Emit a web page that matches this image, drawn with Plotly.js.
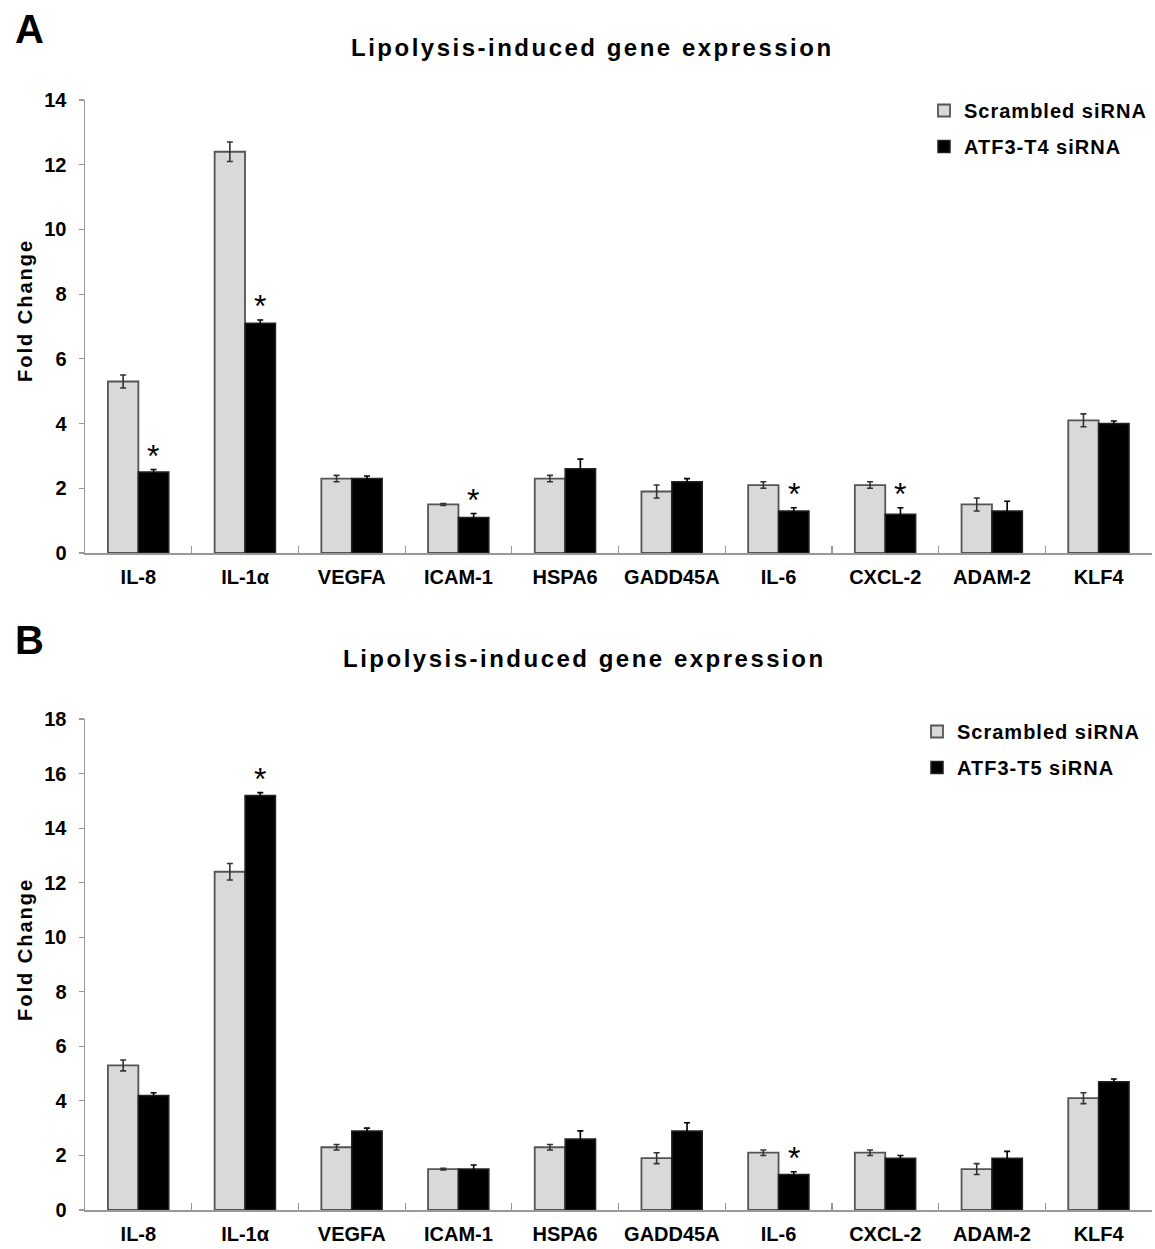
<!DOCTYPE html>
<html>
<head>
<meta charset="utf-8">
<script src="https://cdn.plot.ly/plotly-3.0.1.min.js"></script>
<style>html,body{margin:0;padding:0;background:#fff}#chart{width:1155px;height:1249px}</style>
</head>
<body>
<div id="chart"></div>
<script>
const genes = ['IL-8','IL-1α','VEGFA','ICAM-1','HSPA6','GADD45A','IL-6','CXCL-2','ADAM-2','KLF4'];
const scrambled = [5.3,12.4,2.3,1.5,2.3,1.9,2.1,2.1,1.5,4.1];
const scrambledErr = [0.2,0.3,0.1,0.03,0.1,0.2,0.1,0.1,0.2,0.2];
const atf3T4 = [2.5,7.1,2.3,1.1,2.6,2.2,1.3,1.2,1.3,4.0];
const atf3T4Err = [0.08,0.1,0.08,0.12,0.3,0.1,0.1,0.2,0.3,0.08];
const atf3T5 = [4.2,15.2,2.9,1.5,2.6,2.9,1.3,1.9,1.9,4.7];
const atf3T5Err = [0.1,0.1,0.1,0.15,0.3,0.3,0.1,0.1,0.25,0.1];
const sigA = [1,1,0,1,0,0,1,1,0,0];
const sigB = [0,1,0,0,0,0,1,0,0,0];
const yTicksA = [0,2,4,6,8,10,12,14];
const yTicksB = [0,2,4,6,8,10,12,14,16,18];

const FONT = 'Arial, "Liberation Sans", sans-serif';
const W = 1155, H = 1249;
const px = v => v / W, py = v => 1 - v / H;
const spaced = (t, s) => '<span style="letter-spacing:' + s + 'px"><b>' + t + '</b></span>';

function lightBar(xa, ya, lg) {
  return {type:'bar', name:spaced('Scrambled siRNA', 1), x:genes, y:scrambled, xaxis:xa, yaxis:ya,
    legend:lg, legendgroup:lg+'a', showlegend:true,
    marker:{color:'#d9d9d9', line:{color:'#555', width:1.8}},
    error_y:{type:'data', array:scrambledErr, visible:true, color:'#333', thickness:1.6, width:3}};
}
function darkBar(xa, ya, lg, name, vals, errs) {
  return {type:'bar', name:spaced(name, 1), x:genes, y:vals, xaxis:xa, yaxis:ya,
    legend:lg, legendgroup:lg+'b', showlegend:true,
    marker:{color:'#000', line:{color:'#222', width:1.5}},
    error_y:{type:'data', array:errs, visible:true, color:'#000', thickness:1.6, width:3}};
}

const data = [
  lightBar('x','y','legend'),
  darkBar('x','y','legend','ATF3-T4 siRNA', atf3T4, atf3T4Err),
  lightBar('x2','y2','legend2'),
  darkBar('x2','y2','legend2','ATF3-T5 siRNA', atf3T5, atf3T5Err)
];

const annotations = [];
function addStars(sig, vals, errs, xr, yr) {
  sig.forEach((s, i) => {
    if (s) annotations.push({xref:xr, yref:yr, x:genes[i], y:vals[i]+errs[i], xshift:15, yshift:-6,
      yanchor:'bottom', showarrow:false, text:'*', font:{family:FONT, size:32, color:'#000'}});
  });
}
addStars(sigA, atf3T4, atf3T4Err, 'x', 'y');
addStars(sigB, atf3T5, atf3T5Err, 'x2', 'y2');

const boldTitle = 'Lipolysis-induced gene expression';
annotations.push(
  {xref:'paper', yref:'paper', x:px(592), y:py(47), xanchor:'center', yanchor:'middle', showarrow:false,
   text:spaced(boldTitle, 2.5), font:{family:FONT, size:24, color:'#000'}},
  {xref:'paper', yref:'paper', x:px(585), y:py(658), xanchor:'center', yanchor:'middle', showarrow:false,
   text:spaced(boldTitle, 2.5), font:{family:FONT, size:24, color:'#000'}},
  {xref:'paper', yref:'paper', x:px(29), y:py(29), xanchor:'center', yanchor:'middle', showarrow:false,
   text:'<b>A</b>', font:{family:FONT, size:40, color:'#000'}},
  {xref:'paper', yref:'paper', x:px(29), y:py(640), xanchor:'center', yanchor:'middle', showarrow:false,
   text:'<b>B</b>', font:{family:FONT, size:40, color:'#000'}},
  {xref:'paper', yref:'paper', x:px(25), y:py(311), xanchor:'center', yanchor:'middle', showarrow:false, textangle:-90,
   text:spaced('Fold Change', 2), font:{family:FONT, size:20, color:'#000'}},
  {xref:'paper', yref:'paper', x:px(25), y:py(950), xanchor:'center', yanchor:'middle', showarrow:false, textangle:-90,
   text:spaced('Fold Change', 2), font:{family:FONT, size:20, color:'#000'}}
);

const xCommon = {type:'category', showline:true, linecolor:'#999', linewidth:1.5, ticks:'inside', tickson:'boundaries',
  ticklen:7, tickcolor:'#999', tickwidth:1.2, showgrid:false, zeroline:false, range:[-0.5, 9.5],
  tickfont:{family:FONT, size:20, color:'#000', weight:'bold'}, ticklabelstandoff:5};
const yCommon = {showline:true, linecolor:'#999', linewidth:1.5, ticks:'outside', ticklen:5, tickcolor:'#999', tickwidth:1.2,
  showgrid:false, zeroline:false, tickfont:{family:FONT, size:20, color:'#000', weight:'bold'}, ticklabelstandoff:8};

const legendFont = {family:FONT, size:20, color:'#000', weight:'bold'};
const layout = {
  width:W, height:H, margin:{l:0, r:0, t:0, b:0, autoexpand:false}, paper_bgcolor:'#fff', plot_bgcolor:'#fff',
  barmode:'group', bargap:0.43, bargroupgap:0,
  xaxis:Object.assign({}, xCommon, {domain:[px(85), px(1152)], anchor:'y', automargin:false}),
  yaxis:Object.assign({}, yCommon, {domain:[py(553), py(100)], range:[0,14], tickvals:yTicksA, anchor:'x', automargin:false}),
  xaxis2:Object.assign({}, xCommon, {domain:[px(85), px(1152)], anchor:'y2', automargin:false}),
  yaxis2:Object.assign({}, yCommon, {domain:[py(1210), py(719)], range:[0,18], tickvals:yTicksB, anchor:'x2', automargin:false}),
  legend:{x:px(924), y:py(91), xanchor:'left', yanchor:'top', bgcolor:'rgba(0,0,0,0)', tracegroupgap:7, font:legendFont},
  legend2:{x:px(917), y:py(712), xanchor:'left', yanchor:'top', bgcolor:'rgba(0,0,0,0)', tracegroupgap:7, font:legendFont},
  annotations:annotations
};

Plotly.newPlot('chart', data, layout, {staticPlot:true});
</script>
</body>
</html>
